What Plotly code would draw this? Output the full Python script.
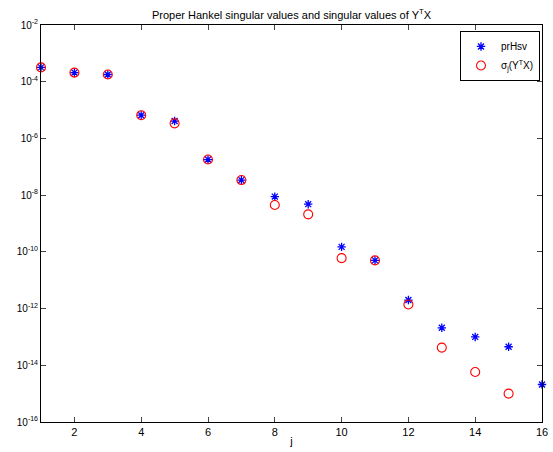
import plotly.graph_objects as go

j = list(range(1, 17))
prHsv = [3.2e-4, 2.1e-4, 1.8e-4, 6.6e-6, 4.1e-6, 1.8e-7, 3.4e-8, 8.9e-9,
         4.8e-9, 1.5e-10, 5.0e-11, 2.0e-12, 2.1e-13, 1.0e-13, 4.5e-14, 2.1e-15]
sigma = [3.2e-4, 2.1e-4, 1.8e-4, 6.6e-6, 3.4e-6, 1.8e-7, 3.4e-8, 4.5e-9,
         2.1e-9, 6.0e-11, 5.0e-11, 1.4e-12, 4.2e-14, 5.8e-15, 1.0e-15, None]

xticks = [2, 4, 6, 8, 10, 12, 14, 16]
yexps = [-2, -4, -6, -8, -10, -12, -14, -16]

fig = go.Figure()
fig.add_trace(go.Scatter(
    x=j, y=prHsv, mode="markers", name="prHsv",
    marker=dict(symbol="asterisk-open", size=7, color="blue",
                line=dict(color="blue", width=1.3)),
    cliponaxis=False))
fig.add_trace(go.Scatter(
    x=j, y=sigma, mode="markers", name="σ<sub>j</sub>(Y<sup>T</sup>X)",
    marker=dict(symbol="circle-open", size=9, color="red",
                line=dict(color="red", width=1.1)),
    cliponaxis=False))

fig.update_layout(
    width=553, height=452,
    margin=dict(l=41, r=11, t=25, b=30),
    paper_bgcolor="white", plot_bgcolor="white",
    font=dict(family="Liberation Sans, Arial, sans-serif", size=10, color="black"),
    title=dict(text="Proper Hankel singular values and singular values of Y<sup>T</sup>X",
               x=0.5, xref="paper", xanchor="center", y=1 - 15 / 452, yanchor="middle",
               font=dict(size=11)),
    showlegend=True,
    legend=dict(x=0.996, y=0.985, xanchor="right", yanchor="top",
                bordercolor="black", borderwidth=1, bgcolor="white",
                font=dict(size=10), itemwidth=30),
    xaxis=dict(range=[1, 16], tickvals=xticks, ticks="inside", ticklen=5,
               showline=True, mirror="ticks", linecolor="black", linewidth=1,
               showgrid=False, zeroline=False, tickfont=dict(size=11),
               automargin=False, ticklabeloverflow="allow",
               title=dict(text="j", standoff=0, font=dict(size=11))),
    yaxis=dict(type="log", range=[-16, -2], tickvals=[10.0**e for e in yexps],
               ticktext=["10<sup>%d</sup>" % e for e in yexps],
               ticks="inside", ticklen=5, automargin=False,
               showline=True, mirror="ticks", linecolor="black", linewidth=1,
               showgrid=False, zeroline=False, tickfont=dict(size=10)),
)

fig.write_html("out.html",
               config={"displayModeBar": False},
               post_script="document.body.style.margin='0';"
                           "document.documentElement.style.overflow='hidden';")
